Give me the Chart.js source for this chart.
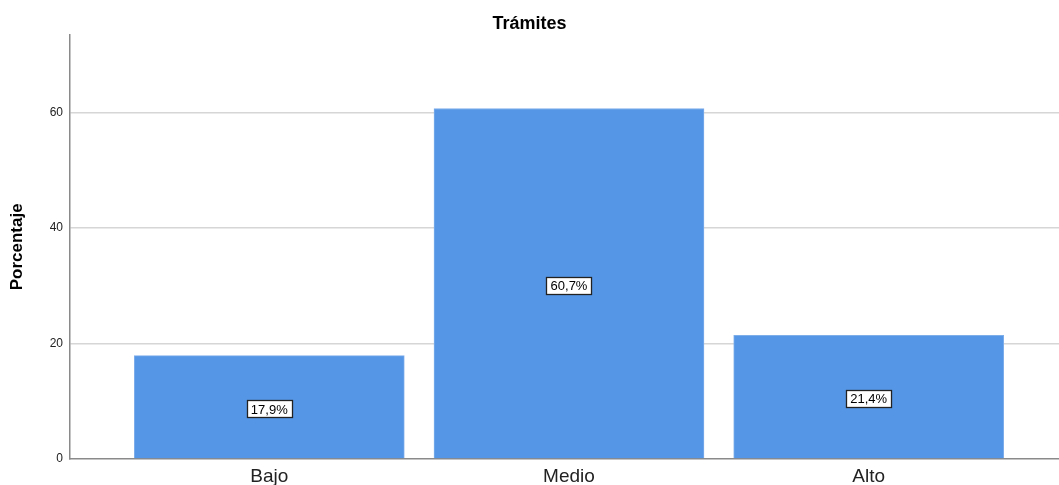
<!DOCTYPE html>
<html>
<head>
<meta charset="utf-8">
<script src="https://cdn.jsdelivr.net/npm/chart.js@4"></script>
<style>
  html, body { margin: 0; padding: 0; background: #fff; }
  #wrap { width: 1059px; height: 485px; }
</style>
</head>
<body>
<div id="wrap"><canvas id="myChart"></canvas></div>
<script>
const categories = ['Bajo', 'Medio', 'Alto'];
const porcentajes = [17.9, 60.7, 21.4];
const yTicks = [0, 20, 40, 60];

// etiqueta con recuadro blanco en el centro de cada barra
const valueBoxes = {
  id: 'valueBoxes',
  afterDatasetsDraw(chart) {
    const ctx = chart.ctx;
    const meta = chart.getDatasetMeta(0);
    ctx.save();
    ctx.font = '13px Arial, "Liberation Sans", sans-serif';
    ctx.textAlign = 'center';
    ctx.textBaseline = 'middle';
    meta.data.forEach((bar, i) => {
      const txt = porcentajes[i].toFixed(1).replace('.', ',') + '%';
      const cy = (bar.y + bar.base) / 2 + 2;
      const w = Math.round(ctx.measureText(txt).width + 8);
      const h = 17;
      const x0 = Math.round(bar.x - w / 2) + 0.5;
      const y0 = Math.round(cy - h / 2) + 0.5;
      ctx.fillStyle = '#fff';
      ctx.fillRect(x0, y0, w, h);
      ctx.strokeStyle = '#222';
      ctx.lineWidth = 1.3;
      ctx.strokeRect(x0, y0, w, h);
      ctx.fillStyle = '#000';
      ctx.fillText(txt, bar.x, cy + 1);
    });
    ctx.restore();
  }
};

const ctx = document.getElementById('myChart').getContext('2d');
new Chart(ctx, {
  type: 'bar',
  data: {
    datasets: [{
      data: porcentajes.map((v, i) => ({ x: i, y: v })),
      backgroundColor: '#5596e6',
      borderColor: '#7eaeea',
      borderWidth: 1,
      barThickness: 270
    }]
  },
  options: {
    responsive: true,
    maintainAspectRatio: false,
    animation: false,
    layout: { padding: { left: 0, right: 0, top: 0, bottom: 0 } },
    plugins: {
      legend: { display: false },
      tooltip: { enabled: false },
      title: {
        display: true,
        text: 'Trámites',
        color: '#000',
        font: { family: 'Arial, "Liberation Sans", sans-serif', size: 18, weight: 'bold' },
        padding: { top: 13, bottom: 0 }
      }
    },
    scales: {
      x: {
        type: 'linear',
        offset: false,
        min: -0.665,
        max: 2.635,
        afterBuildTicks: (scale) => { scale.ticks = categories.map((c, i) => ({ value: i })); },
        afterFit: (scale) => { scale.height = 26; },
        ticks: {
          callback: (v) => categories[v],
          color: '#222',
          padding: 6,
          font: { family: 'Arial, "Liberation Sans", sans-serif', size: 19 }
        },
        grid: { display: false, drawTicks: false, offset: false },
        border: { display: true, color: '#8a8a8a', width: 1.5 }
      },
      y: {
        min: 0,
        max: 73.5,
        afterBuildTicks: (scale) => { scale.ticks = yTicks.map(v => ({ value: v })); },
        afterFit: (scale) => { scale.width = 70; },
        ticks: {
          color: '#222',
          padding: 7,
          font: { family: 'Arial, "Liberation Sans", sans-serif', size: 12 }
        },
        grid: {
          color: (c) => c.tick && c.tick.value === 0 ? 'rgba(0,0,0,0)' : '#d6d6d6',
          lineWidth: 1.5,
          drawTicks: false
        },
        border: { display: true, color: '#8a8a8a', width: 1.5 },
        title: {
          display: true,
          text: 'Porcentaje',
          color: '#000',
          padding: { top: 7, bottom: 0 },
          font: { family: 'Arial, "Liberation Sans", sans-serif', size: 17, weight: 'bold' }
        }
      }
    }
  },
  plugins: [valueBoxes]
});
</script>
</body>
</html>
